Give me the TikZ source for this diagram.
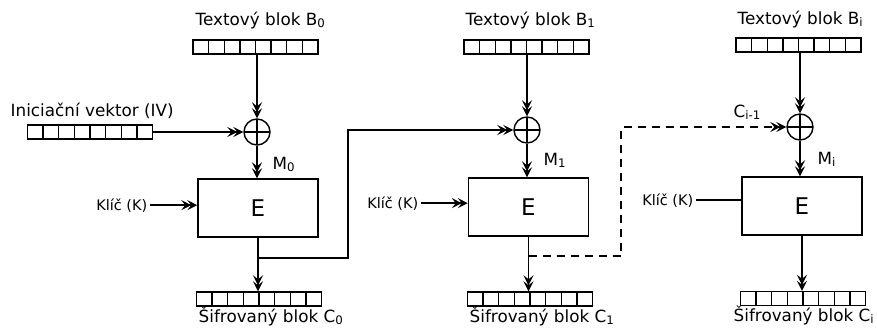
\documentclass[tikz,border=0pt]{standalone}
\usepackage{fontspec}
\setmainfont{DejaVu Sans}
\usetikzlibrary{arrows.meta,positioning,calc}

\begin{document}
\begin{tikzpicture}[
  x=1pt,y=-1pt,line width=1.4pt,
  ttl/.style={font=\fontsize{16.8}{20}\selectfont,inner sep=0pt,anchor=base west},
  lbl/.style={font=\fontsize{14.5}{17}\selectfont,inner sep=0pt,anchor=base west},
  reg/.style={draw,minimum width=125pt,minimum height=14pt,inner sep=0pt,
              path picture={\foreach \k in {1,...,7}
                \draw ($(path picture bounding box.south west)!\k/8!(path picture bounding box.south east)$)
                   -- ($(path picture bounding box.north west)!\k/8!(path picture bounding box.north east)$);}},
  xorn/.style={draw,circle,minimum size=26pt,inner sep=0pt,
              path picture={\draw (path picture bounding box.north) -- (path picture bounding box.south)
                (path picture bounding box.west) -- (path picture bounding box.east);}},
  enc/.style={draw,minimum width=120pt,minimum height=58pt,font=\fontsize{23}{27}\selectfont},
  arr/.style={-{Stealth[length=10pt,width=10pt,inset=4pt,sep=-4pt]Stealth[length=10pt,width=10pt,inset=4pt]}}
]
\useasboundingbox (0,0) rectangle (877,330);
% block 0
\node[ttl] (t0) at (195,25) {Textový blok B\textsubscript{0}};
\node[reg] (b0) at (255.5,47) {};
\node[xorn] (x0) at (257,132) {};
\node[ttl] (ivt) at (10,116) {Iniciační vektor (IV)};
\node[reg] (iv) at (90,132) {};
\node[ttl] (m0) at (272,169) {M\textsubscript{0}};
\node[enc] (e0) at (258,208) {E};
\node[lbl,anchor=base east] (k0) at (148,210) {Klíč (K)};
\node[reg] (o0) at (259,299) {};
\node[ttl] (c0) at (198,322) {Šifrovaný blok C\textsubscript{0}};
\coordinate (t0) at (258,258);
\coordinate (u0) at (348,258);
% block 1
\node[ttl] (t1) at (465,25) {Textový blok B\textsubscript{1}};
\node[reg] (b1) at (526.5,47) {};
\node[xorn] (x1) at (527,130) {};
\node[ttl] (m1) at (543,165) {M\textsubscript{1}};
\node[enc] (e1) at (528.5,207) {E};
\node[lbl,anchor=base east] (k1) at (419,208) {Klíč (K)};
\node[reg] (o1) at (530,299) {};
\node[ttl] (c1) at (469,322) {Šifrovaný blok C\textsubscript{1}};
\coordinate (t1) at (528.5,256);
\coordinate (u1) at (621,256);
% block i
\node[ttl] (t2) at (737,24) {Textový blok B\textsubscript{i}};
\node[reg] (b2) at (798.5,45) {};
\node[xorn] (x2) at (800,127) {};
\node[ttl] (ci) at (733,117) {C\textsubscript{i-1}};
\node[ttl] (m2) at (817,164) {M\textsubscript{i}};
\node[enc] (e2) at (802,206) {E};
\node[lbl,anchor=base east] (k2) at (694,205) {Klíč (K)};
\node[reg] (o2) at (803,298.5) {};
\node[ttl] (c2) at (733,321) {Šifrovaný blok C\textsubscript{i}};

\draw[arr] (x0 |- b0.south) -- (x0.north);
\draw[arr] (iv.east) -- (x0.west);
\draw[arr] (x0.south) -- (x0 |- e0.north);
\draw[arr] ([xshift=2pt]k0.east) -- (k0.east -| e0.west);
\draw[arr] (e0.south) -- (e0.south |- o0.north);
\draw[arr] (t0) -- (u0) |- (x1.west);

\draw[arr] (x1 |- b1.south) -- (x1.north);
\draw[arr] (x1.south) -- (x1 |- e1.north);
\draw[arr] ([xshift=2pt]k1.east) -- (k1.east -| e1.west);
\draw[arr] (e1.south) -- (e1.south |- o1.north);
\draw[arr,dash pattern=on 8pt off 6pt] (t1) -- (u1) |- (x2.west);

\draw[arr] (x2 |- b2.south) -- (x2.north);
\draw[arr] (x2.south) -- (x2 |- e2.north);
\draw ([xshift=2pt]k2.east) -- (k2.east -| e2.west);
\draw[arr] (e2.south) -- (e2.south |- o2.north);
\end{tikzpicture}
\end{document}
